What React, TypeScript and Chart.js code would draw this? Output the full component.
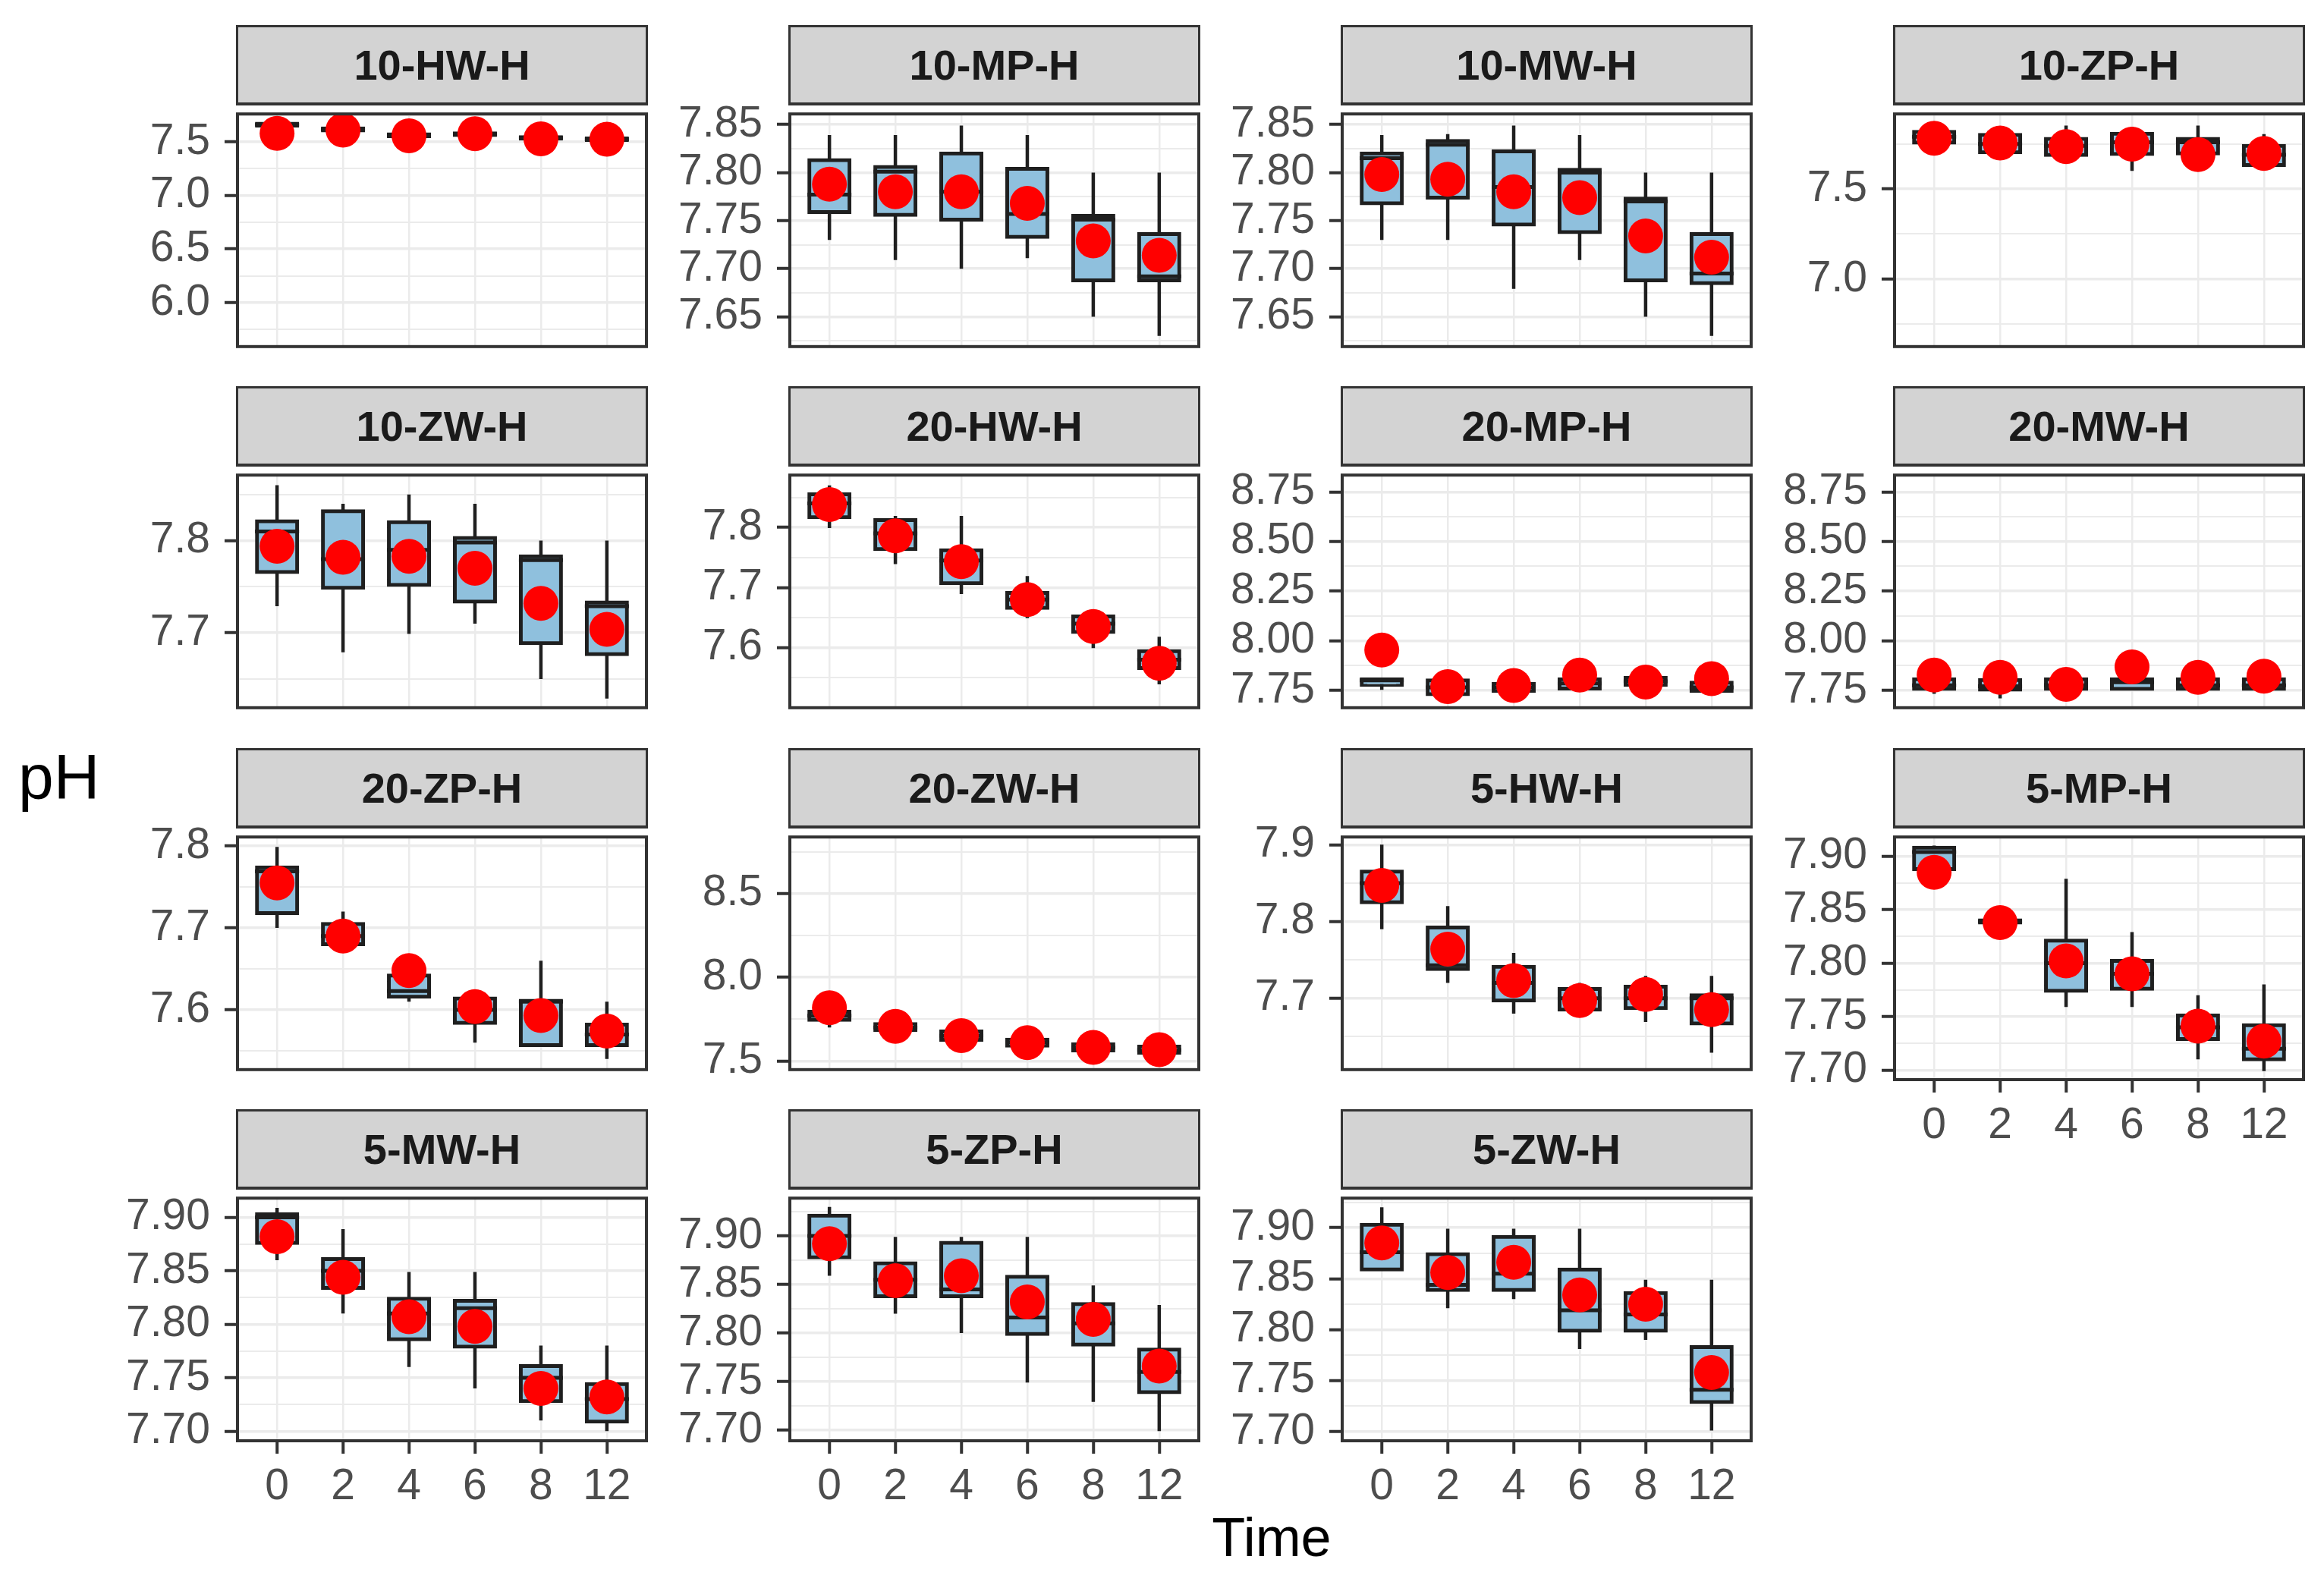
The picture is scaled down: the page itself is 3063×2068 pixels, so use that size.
import { useEffect, useRef, type FC } from 'react';
import Chart from 'chart.js/auto';

const TIMES = ['0', '2', '4', '6', '8', '12'];

const PANELS = [
    '10-HW-H', '10-MP-H', '10-MW-H', '10-ZP-H',
    '10-ZW-H', '20-HW-H', '20-MP-H', '20-MW-H',
    '20-ZP-H', '20-ZW-H', '5-HW-H', '5-MP-H',
    '5-MW-H', '5-ZP-H', '5-ZW-H'
];

// whisker ends, hinges, medians and means, one row per panel, one value per time
const LOWER = [
    [7.645, 7.600, 7.548, 7.560, 7.525, 7.512],
    [7.730, 7.709, 7.700, 7.711, 7.650, 7.630],
    [7.730, 7.730, 7.679, 7.709, 7.650, 7.630],
    [7.758, 7.704, 7.689, 7.601, 7.698, 7.633],
    [7.729, 7.679, 7.699, 7.710, 7.650, 7.629],
    [7.799, 7.739, 7.689, 7.649, 7.599, 7.539],
    [7.752, 7.730, 7.747, 7.759, 7.777, 7.747],
    [7.732, 7.709, 7.757, 7.757, 7.757, 7.757],
    [7.700, 7.678, 7.610, 7.560, 7.557, 7.540],
    [7.700, 7.685, 7.626, 7.591, 7.563, 7.549],
    [7.790, 7.720, 7.680, 7.685, 7.669, 7.629],
    [7.888, 7.838, 7.759, 7.759, 7.710, 7.699],
    [7.860, 7.810, 7.760, 7.740, 7.710, 7.700],
    [7.859, 7.820, 7.800, 7.749, 7.729, 7.699],
    [7.859, 7.821, 7.830, 7.781, 7.790, 7.701]
];

const Q1 = [
    [7.650, 7.606, 7.552, 7.564, 7.530, 7.517],
    [7.759, 7.756, 7.751, 7.733, 7.688, 7.688],
    [7.768, 7.774, 7.746, 7.738, 7.688, 7.685],
    [7.758, 7.704, 7.689, 7.694, 7.698, 7.633],
    [7.766, 7.749, 7.752, 7.734, 7.689, 7.677],
    [7.817, 7.764, 7.707, 7.666, 7.626, 7.566],
    [7.777, 7.730, 7.747, 7.759, 7.777, 7.747],
    [7.757, 7.753, 7.757, 7.757, 7.757, 7.757],
    [7.718, 7.680, 7.616, 7.584, 7.557, 7.557],
    [7.745, 7.685, 7.626, 7.591, 7.563, 7.549],
    [7.825, 7.738, 7.697, 7.685, 7.687, 7.667],
    [7.888, 7.838, 7.774, 7.776, 7.729, 7.710],
    [7.876, 7.834, 7.786, 7.779, 7.728, 7.709],
    [7.878, 7.838, 7.838, 7.799, 7.788, 7.739],
    [7.859, 7.839, 7.839, 7.799, 7.799, 7.729]
];

const MEDIAN = [
    [7.660, 7.616, 7.561, 7.572, 7.537, 7.524],
    [7.777, 7.801, 7.780, 7.757, 7.751, 7.692],
    [7.815, 7.829, 7.785, 7.800, 7.770, 7.695],
    [7.790, 7.750, 7.740, 7.760, 7.760, 7.690],
    [7.810, 7.780, 7.790, 7.798, 7.779, 7.729],
    [7.840, 7.790, 7.745, 7.680, 7.640, 7.580],
    [7.800, 7.765, 7.765, 7.785, 7.795, 7.765],
    [7.775, 7.770, 7.775, 7.790, 7.775, 7.775],
    [7.769, 7.690, 7.623, 7.600, 7.610, 7.570],
    [7.770, 7.700, 7.650, 7.610, 7.580, 7.565],
    [7.850, 7.743, 7.720, 7.700, 7.700, 7.700],
    [7.904, 7.839, 7.800, 7.790, 7.740, 7.720],
    [7.900, 7.850, 7.810, 7.815, 7.750, 7.730],
    [7.900, 7.855, 7.845, 7.816, 7.810, 7.760],
    [7.876, 7.844, 7.855, 7.819, 7.815, 7.741]
];

const Q3 = [
    [7.670, 7.626, 7.570, 7.580, 7.544, 7.531],
    [7.813, 7.806, 7.820, 7.804, 7.755, 7.736],
    [7.820, 7.833, 7.822, 7.803, 7.773, 7.736],
    [7.818, 7.801, 7.779, 7.807, 7.779, 7.740],
    [7.821, 7.832, 7.820, 7.803, 7.783, 7.733],
    [7.855, 7.812, 7.762, 7.691, 7.652, 7.594],
    [7.806, 7.800, 7.782, 7.806, 7.812, 7.788],
    [7.806, 7.802, 7.806, 7.806, 7.806, 7.806],
    [7.774, 7.705, 7.642, 7.614, 7.611, 7.582],
    [7.794, 7.720, 7.676, 7.627, 7.599, 7.585],
    [7.865, 7.792, 7.741, 7.712, 7.715, 7.704],
    [7.908, 7.840, 7.821, 7.802, 7.751, 7.742],
    [7.903, 7.861, 7.824, 7.822, 7.761, 7.744],
    [7.921, 7.872, 7.893, 7.858, 7.830, 7.783],
    [7.903, 7.874, 7.891, 7.859, 7.836, 7.783]
];

const UPPER = [
    [7.675, 7.632, 7.575, 7.585, 7.548, 7.535],
    [7.839, 7.839, 7.849, 7.839, 7.800, 7.800],
    [7.839, 7.840, 7.849, 7.839, 7.800, 7.800],
    [7.818, 7.801, 7.853, 7.844, 7.853, 7.805],
    [7.860, 7.840, 7.850, 7.840, 7.800, 7.800],
    [7.870, 7.819, 7.819, 7.719, 7.653, 7.618],
    [7.806, 7.800, 7.782, 7.806, 7.812, 7.788],
    [7.806, 7.802, 7.806, 7.806, 7.806, 7.806],
    [7.799, 7.720, 7.642, 7.614, 7.660, 7.610],
    [7.794, 7.720, 7.676, 7.627, 7.599, 7.585],
    [7.900, 7.820, 7.759, 7.720, 7.729, 7.729],
    [7.910, 7.840, 7.879, 7.829, 7.770, 7.780],
    [7.909, 7.889, 7.849, 7.849, 7.780, 7.780],
    [7.930, 7.899, 7.899, 7.899, 7.849, 7.829],
    [7.920, 7.899, 7.899, 7.899, 7.849, 7.849]
];

const MEAN = [
    [7.579, 7.610, 7.557, 7.575, 7.528, 7.524],
    [7.788, 7.780, 7.780, 7.768, 7.729, 7.714],
    [7.798, 7.793, 7.780, 7.774, 7.734, 7.712],
    [7.782, 7.756, 7.736, 7.749, 7.691, 7.698],
    [7.794, 7.782, 7.783, 7.770, 7.732, 7.704],
    [7.838, 7.786, 7.743, 7.680, 7.635, 7.574],
    [7.953, 7.768, 7.774, 7.827, 7.791, 7.809],
    [7.827, 7.815, 7.780, 7.868, 7.815, 7.821],
    [7.755, 7.690, 7.648, 7.604, 7.593, 7.574],
    [7.818, 7.707, 7.651, 7.609, 7.581, 7.567],
    [7.847, 7.764, 7.723, 7.697, 7.705, 7.685],
    [7.885, 7.838, 7.802, 7.790, 7.741, 7.727],
    [7.882, 7.844, 7.807, 7.798, 7.740, 7.732],
    [7.892, 7.854, 7.859, 7.832, 7.814, 7.766],
    [7.885, 7.856, 7.866, 7.834, 7.825, 7.758]
];

// free y scales, one range and one set of breaks per panel
const Y_MIN = [5.59, 7.619, 7.619, 6.625, 7.619, 7.50, 7.662, 7.662, 7.527, 7.448, 7.607, 7.691, 7.691, 7.689, 7.691];
const Y_MAX = [7.76, 7.861, 7.861, 7.917, 7.871, 7.887, 8.835, 8.835, 7.811, 8.838, 7.910, 7.918, 7.918, 7.939, 7.929];
const Y_BREAKS = [
    [6.0, 6.5, 7.0, 7.5],
    [7.65, 7.70, 7.75, 7.80, 7.85],
    [7.65, 7.70, 7.75, 7.80, 7.85],
    [7.0, 7.5],
    [7.7, 7.8],
    [7.6, 7.7, 7.8],
    [7.75, 8.0, 8.25, 8.5, 8.75],
    [7.75, 8.0, 8.25, 8.5, 8.75],
    [7.6, 7.7, 7.8],
    [7.5, 8.0, 8.5],
    [7.7, 7.8, 7.9],
    [7.70, 7.75, 7.80, 7.85, 7.90],
    [7.70, 7.75, 7.80, 7.85, 7.90],
    [7.70, 7.75, 7.80, 7.85, 7.90],
    [7.70, 7.75, 7.80, 7.85, 7.90]
];
const Y_DECIMALS = [1, 2, 2, 1, 1, 1, 2, 2, 1, 1, 1, 2, 2, 2, 2];
const WITH_TIME_AXIS = [11, 12, 13, 14];

const COL_LEFT = [313, 1041, 1769, 2497];
const ROW_TOP = [137, 613, 1090, 1566];
const PANEL_W = 539;
const PANEL_H = 333;
const STRIP_H = 104;
const AXIS_W = 170;
const AXIS_H = 100;
const PAD = 40;

const FONT = 'Liberation Sans, Arial, sans-serif';
const BOX_FILL = '#8FC0DD';
const EDGE = '#1F1F1F';
const GRID = '#EBEBEB';
const FRAME = '#333333';

const panelFrame = {
    id: 'panelFrame',
    afterDatasetsDraw(chart: Chart) {
        const { ctx, chartArea } = chart;
        ctx.save();
        ctx.strokeStyle = FRAME;
        ctx.lineWidth = 4;
        ctx.strokeRect(chartArea.left, chartArea.top, chartArea.right - chartArea.left, chartArea.bottom - chartArea.top);
        ctx.restore();
    }
};

const Panel: FC<{ index: number }> = ({ index }) => {
    const canvas = useRef<HTMLCanvasElement>(null);
    const hasTime = WITH_TIME_AXIS.includes(index);
    const col = index % 4;
    const row = Math.floor(index / 4);
    const width = AXIS_W + PANEL_W + PAD;
    const height = PAD + PANEL_H + (hasTime ? AXIS_H : PAD);

    useEffect(() => {
        const breaks = Y_BREAKS[index];
        const step = breaks[1] - breaks[0];
        const minors = [breaks[0] - step / 2, ...breaks.map(v => v + step / 2)]
            .filter(v => v >= Y_MIN[index] && v <= Y_MAX[index]);
        const yTicks = [
            ...breaks.map(v => ({ value: v, major: true })),
            ...minors.map(v => ({ value: v, major: false }))
        ].sort((a, b) => a.value - b.value);
        const xs = TIMES.map((_, i) => i);

        const chart = new Chart(
            // @ts-expect-error next
            canvas.current,
            {
                type: 'bar',
                data: {
                    datasets: [
                        {
                            type: 'scatter',
                            label: 'mean',
                            data: xs.map(i => ({ x: i, y: MEAN[index][i] })),
                            pointStyle: 'circle',
                            pointRadius: 23,
                            pointBackgroundColor: '#FF0000',
                            pointBorderWidth: 0,
                            order: 1
                        },
                        {
                            type: 'scatter',
                            label: 'median',
                            data: xs.map(i => ({ x: i, y: MEDIAN[index][i] })),
                            pointStyle: 'line',
                            pointRadius: 29,
                            pointBorderColor: EDGE,
                            pointBorderWidth: 5,
                            order: 2
                        },
                        {
                            type: 'bar',
                            label: 'box',
                            data: xs.map(i => ({ x: i, y: [Q1[index][i], Q3[index][i]] })),
                            backgroundColor: (c: any) => {
                                const y = c.chart.scales?.y;
                                const raw = c.raw;
                                if (!y || !raw) return BOX_FILL;
                                const h = Math.abs(y.getPixelForValue(raw.y[0]) - y.getPixelForValue(raw.y[1]));
                                return h < 5 ? EDGE : BOX_FILL;
                            },
                            borderColor: EDGE,
                            borderWidth: 5,
                            borderSkipped: false,
                            inflateAmount: 2.5,
                            barThickness: 53,
                            grouped: false,
                            order: 3
                        },
                        {
                            type: 'bar',
                            label: 'whisker',
                            data: xs.map(i => ({ x: i, y: [LOWER[index][i], UPPER[index][i]] })),
                            backgroundColor: EDGE,
                            borderWidth: 0,
                            inflateAmount: 0,
                            barThickness: 4.5,
                            grouped: false,
                            order: 4
                        }
                    ]
                },
                options: {
                    animation: false,
                    responsive: false,
                    events: [],
                    layout: {
                        padding: { top: PAD, right: PAD, bottom: hasTime ? 0 : PAD, left: 0 }
                    },
                    scales: {
                        x: {
                            type: 'linear',
                            min: -0.6,
                            max: 5.6,
                            offset: false,
                            afterBuildTicks: (axis: any) => {
                                axis.ticks = xs.map(v => ({ value: v }));
                            },
                            afterFit: (axis: any) => {
                                axis.height = hasTime ? AXIS_H : 0;
                            },
                            ticks: {
                                display: hasTime,
                                autoSkip: false,
                                maxRotation: 0,
                                padding: 10,
                                color: '#4D4D4D',
                                font: { family: FONT, size: 57 },
                                callback: (v: any) => TIMES[v]
                            },
                            grid: {
                                offset: false,
                                color: GRID,
                                lineWidth: 2.5,
                                drawTicks: hasTime,
                                tickLength: 17,
                                tickWidth: 4,
                                tickColor: FRAME
                            },
                            border: { display: false }
                        },
                        y: {
                            type: 'linear',
                            min: Y_MIN[index],
                            max: Y_MAX[index],
                            afterBuildTicks: (axis: any) => {
                                axis.ticks = yTicks.map(t => ({ ...t }));
                            },
                            afterFit: (axis: any) => {
                                axis.width = AXIS_W;
                            },
                            ticks: {
                                autoSkip: false,
                                padding: 19,
                                color: '#4D4D4D',
                                font: { family: FONT, size: 57 },
                                callback: (v: any, i: number, ticks: any[]) =>
                                    ticks[i] && ticks[i].major ? Number(v).toFixed(Y_DECIMALS[index]) : ''
                            },
                            grid: {
                                offset: false,
                                color: GRID,
                                lineWidth: (c: any) => (c.tick && c.tick.major ? 3.5 : 2),
                                tickLength: 17,
                                tickWidth: 4,
                                tickColor: (c: any) => (c.tick && c.tick.major ? FRAME : 'rgba(0,0,0,0)')
                            },
                            border: { display: false }
                        }
                    },
                    plugins: {
                        legend: { display: false },
                        tooltip: { enabled: false },
                        title: { display: false }
                    }
                },
                plugins: [panelFrame]
            }
        );

        return () => {
            chart.destroy();
        };
    }, [index]);

    return (
        <>
            <canvas
                ref={canvas}
                width={width}
                height={height}
                aria-label={PANELS[index]}
                role="img"
                style={{
                    position: 'absolute',
                    left: COL_LEFT[col] - AXIS_W,
                    top: ROW_TOP[row] - PAD,
                    width,
                    height
                }}
            ></canvas>
            <div
                style={{
                    position: 'absolute',
                    left: COL_LEFT[col] - 2,
                    top: ROW_TOP[row] - STRIP_H,
                    width: PANEL_W + 4,
                    height: STRIP_H + 2,
                    boxSizing: 'border-box',
                    border: `3px solid ${FRAME}`,
                    borderBottom: `4px solid ${FRAME}`,
                    background: '#D3D3D3',
                    display: 'flex',
                    alignItems: 'center',
                    justifyContent: 'center',
                    fontFamily: FONT,
                    fontWeight: 'bold',
                    fontSize: 56,
                    color: '#1A1A1A'
                }}
            >
                {PANELS[index]}
            </div>
        </>
    );
};

const App: FC = () => {
    return (
        <div
            style={{
                position: 'absolute',
                left: 0,
                top: 0,
                width: 3063,
                height: 2068,
                background: '#FFFFFF',
                overflow: 'hidden'
            }}
        >
            {PANELS.map((name, i) => (
                <Panel key={name} index={i} />
            ))}
            <div
                style={{
                    position: 'absolute',
                    left: 24,
                    top: 982,
                    fontFamily: FONT,
                    fontSize: 84,
                    lineHeight: 1,
                    color: '#000000'
                }}
            >
                pH
            </div>
            <div
                style={{
                    position: 'absolute',
                    left: 1676,
                    top: 1990,
                    transform: 'translateX(-50%)',
                    fontFamily: FONT,
                    fontSize: 72,
                    lineHeight: 1,
                    color: '#000000'
                }}
            >
                Time
            </div>
        </div>
    );
};

export default App;
